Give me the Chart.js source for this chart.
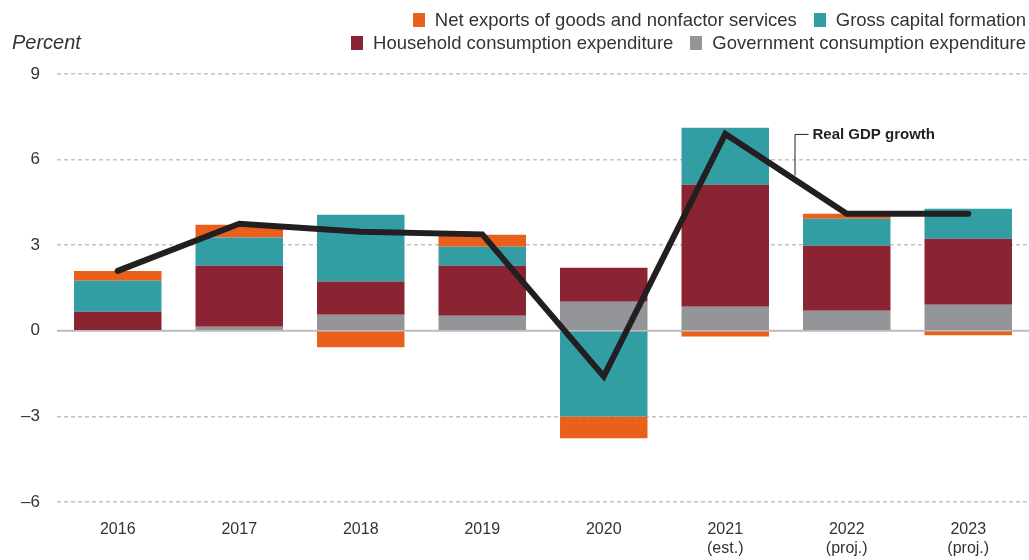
<!DOCTYPE html>
<html>
<head>
<meta charset="utf-8">
<script src="https://cdn.jsdelivr.net/npm/chart.js@4"></script>
<style>
  body { margin: 0; background: #fff; }
  #wrap { position: relative; width: 1029px; height: 560px; font-family: "Liberation Sans", Arial, sans-serif; color: #333; }
  #chart { position: absolute; left: 0; top: 0; }
  .unit { position: absolute; left: 12px; top: 31px; font-size: 20px; font-style: italic; color: #333; }
  .legend { position: absolute; right: 3px; font-size: 18.5px; white-space: nowrap; color: #333; }
  .legend span.sw { display: inline-block; width: 12px; height: 14px; margin: 0 10px 0 17px; vertical-align: -1px; }
</style>
</head>
<body>
<div id="wrap">
  <canvas id="chart" width="1029" height="560"></canvas>
  <div class="unit">Percent</div>
  <div class="legend" style="top:9px"><span class="sw" style="background:#e8601c"></span>Net exports of goods and nonfactor services<span class="sw" style="background:#329ea3"></span>Gross capital formation</div>
  <div class="legend" style="top:32px"><span class="sw" style="background:#8a2432"></span>Household consumption expenditure<span class="sw" style="background:#939598"></span>Government consumption expenditure</div>
</div>
<script>
const years = [['2016'], ['2017'], ['2018'], ['2019'], ['2020'], ['2021', '(est.)'], ['2022', '(proj.)'], ['2023', '(proj.)']];
const government = [0, 0.14, 0.56, 0.53, 1.02, 0.84, 0.70, 0.91];
const household = [0.67, 2.14, 1.17, 1.75, 1.19, 4.28, 2.28, 2.32];
const grossCapital = [1.08, 0.99, 2.34, 0.67, -3.0, 2.0, 0.95, 1.05];
const netExports = [0.35, 0.45, -0.58, 0.42, -0.77, -0.2, 0.17, -0.16];
const gdpGrowth = [2.1, 3.75, 3.47, 3.38, -1.6, 6.9, 4.1, 4.1];
const yTicks = [-6, -3, 0, 3, 6, 9];

// solid zero line under the bars
const zeroLine = {
  id: 'zeroLine',
  beforeDatasetsDraw(chart) {
    const { ctx, chartArea } = chart;
    const y = chart.scales.y.getPixelForValue(0);
    ctx.save();
    ctx.strokeStyle = '#bdbdbd';
    ctx.lineWidth = 2;
    ctx.beginPath();
    ctx.moveTo(chartArea.left, y);
    ctx.lineTo(chartArea.right, y);
    ctx.stroke();
    ctx.restore();
  }
};

// "Real GDP growth" label with leader line
const gdpLabel = {
  id: 'gdpLabel',
  afterDatasetsDraw(chart) {
    const { ctx } = chart;
    const pts = chart.getDatasetMeta(4).data;
    const a = pts[5], b = pts[6];
    const t = 0.57;
    const x = a.x + (b.x - a.x) * t;
    const y = a.y + (b.y - a.y) * t - 4;
    const top = chart.scales.y.getPixelForValue(6.9);
    ctx.save();
    ctx.strokeStyle = '#231f20';
    ctx.lineWidth = 1;
    ctx.beginPath();
    ctx.moveTo(x + 0.5, y);
    ctx.lineTo(x + 0.5, top + 0.5);
    ctx.lineTo(x + 14, top + 0.5);
    ctx.stroke();
    ctx.fillStyle = '#231f20';
    ctx.font = 'bold 15px "Liberation Sans", Arial, sans-serif';
    ctx.textBaseline = 'middle';
    ctx.fillText('Real GDP growth', x + 18, top + 1);
    ctx.restore();
  }
};

new Chart(document.getElementById('chart'), {
  data: {
    labels: years,
    datasets: [
      { type: 'bar', label: 'Government consumption expenditure', data: government, backgroundColor: '#939598', stack: 'a', order: 2 },
      { type: 'bar', label: 'Household consumption expenditure', data: household, backgroundColor: '#8a2432', stack: 'a', order: 2 },
      { type: 'bar', label: 'Gross capital formation', data: grossCapital, backgroundColor: '#329ea3', stack: 'a', order: 2 },
      { type: 'bar', label: 'Net exports of goods and nonfactor services', data: netExports, backgroundColor: '#e8601c', stack: 'a', order: 2 },
      { type: 'line', label: 'Real GDP growth', data: gdpGrowth, borderColor: '#231f20', borderWidth: 6, pointRadius: 0, tension: 0,
        borderCapStyle: 'round', borderJoinStyle: 'miter', stack: 'gdp', order: 1 }
    ]
  },
  options: {
    responsive: false,
    animation: false,
    layout: { padding: { top: 74, right: 0, bottom: 0, left: 0 } },
    datasets: { bar: { categoryPercentage: 1, barPercentage: 0.72 } },
    plugins: { legend: { display: false }, tooltip: { enabled: false } },
    scales: {
      x: {
        stacked: true,
        grid: { display: false, drawTicks: false },
        border: { display: false },
        ticks: { color: '#333', font: { family: '"Liberation Sans", Arial, sans-serif', size: 16 }, padding: 18, maxRotation: 0 },
        afterFit(s) { s.height = 58; }
      },
      y: {
        stacked: true,
        min: -6,
        max: 9,
        afterBuildTicks(s) { s.ticks = yTicks.map(v => ({ value: v })); },
        grid: { color: '#c4c4c4', lineWidth: 1.5, drawTicks: false },
        border: { display: false, dash: [4, 3] },
        ticks: {
          color: '#333',
          font: { family: '"Liberation Sans", Arial, sans-serif', size: 17 },
          padding: 17,
          callback: v => v < 0 ? '\u2013' + Math.abs(v) : String(v)
        },
        afterFit(s) { s.width = 57; }
      }
    }
  },
  plugins: [zeroLine, gdpLabel]
});
</script>
</body>
</html>
